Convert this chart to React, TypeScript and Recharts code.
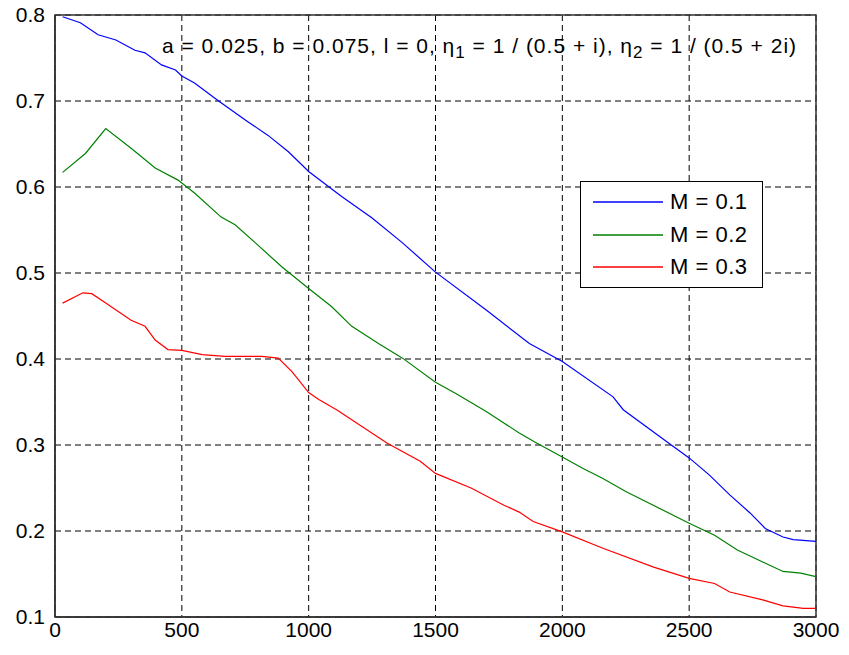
import { LineChart, Line, XAxis, YAxis, CartesianGrid, Legend, ReferenceArea } from 'recharts';

// values
const blueX = [30, 100, 170, 240, 315, 355, 420, 475, 500, 550, 645, 760, 840, 920, 1000, 1130, 1250, 1370, 1500, 1700, 1870, 2000, 2200, 2240, 2420, 2500, 2580, 2660, 2740, 2800, 2870, 2910, 3000];
const blueY = [0.798, 0.791, 0.777, 0.771, 0.759, 0.756, 0.742, 0.736, 0.729, 0.721, 0.700, 0.676, 0.660, 0.641, 0.618, 0.589, 0.564, 0.535, 0.501, 0.457, 0.418, 0.397, 0.356, 0.341, 0.302, 0.285, 0.265, 0.242, 0.221, 0.203, 0.193, 0.190, 0.188];

const greenX = [30, 120, 200, 300, 395, 485, 550, 655, 710, 790, 895, 1000, 1090, 1170, 1275, 1370, 1500, 1580, 1700, 1830, 1900, 2000, 2080, 2160, 2250, 2500, 2600, 2690, 2790, 2870, 2940, 3000];
const greenY = [0.617, 0.639, 0.668, 0.645, 0.622, 0.608, 0.593, 0.565, 0.556, 0.535, 0.507, 0.482, 0.461, 0.438, 0.418, 0.401, 0.373, 0.360, 0.339, 0.314, 0.302, 0.286, 0.273, 0.261, 0.246, 0.209, 0.195, 0.178, 0.164, 0.153, 0.151, 0.147];

const redX = [30, 110, 145, 200, 300, 355, 395, 445, 500, 580, 670, 815, 880, 935, 1000, 1040, 1110, 1310, 1440, 1500, 1640, 1770, 1830, 1885, 2000, 2160, 2360, 2500, 2600, 2660, 2790, 2870, 2950, 3000];
const redY = [0.465, 0.477, 0.476, 0.465, 0.445, 0.438, 0.422, 0.411, 0.410, 0.405, 0.403, 0.403, 0.401, 0.385, 0.361, 0.353, 0.341, 0.302, 0.281, 0.267, 0.250, 0.230, 0.222, 0.211, 0.199, 0.180, 0.158, 0.145, 0.139, 0.129, 0.120, 0.113, 0.110, 0.110];

const xTicks = [0, 500, 1000, 1500, 2000, 2500, 3000];
const yTicks = [0.1, 0.2, 0.3, 0.4, 0.5, 0.6, 0.7, 0.8];

const seriesNames = ['M = 0.1', 'M = 0.2', 'M = 0.3'];
const seriesColors = ['#0000ff', '#008000', '#ff0000'];

const toPoints = (xs: number[], ys: number[]) => xs.map((x, i) => ({ x, y: ys[i] }));

const series = [
  toPoints(blueX, blueY),
  toPoints(greenX, greenY),
  toPoints(redX, redY),
];

const FONT = '"Liberation Sans", Arial, sans-serif';

const LegendBox = () => (
  <div
    style={{
      border: '1.5px solid #000',
      background: '#fff',
      width: 183,
      height: 107,
      boxSizing: 'border-box',
      padding: '4px 0 0 12px',
      fontFamily: FONT,
      fontSize: 22,
      letterSpacing: 0.5,
      color: '#000',
    }}
  >
    {seriesNames.map((name, i) => (
      <div key={name} style={{ display: 'flex', alignItems: 'center', height: 32.5 }}>
        <svg width={72} height={4} style={{ marginRight: 5 }}>
          <line x1={0} y1={2} x2={70} y2={2} stroke={seriesColors[i]} strokeWidth={1.5} />
        </svg>
        <span>{name}</span>
      </div>
    ))}
  </div>
);

export default function App() {
  const tickStyle = { fill: '#000', fontSize: 21, fontFamily: FONT };
  return (
    <div style={{ position: 'absolute', left: 0, top: 0, width: 849, height: 655, background: '#fff' }}>
      <LineChart width={849} height={655} margin={{ top: 15, right: 33, left: 5, bottom: 8 }}>
        <CartesianGrid stroke="#000" strokeDasharray="6 4" />
        <XAxis
          type="number"
          dataKey="x"
          domain={[0, 3000]}
          ticks={xTicks}
          allowDataOverflow
          height={30}
          tick={tickStyle}
          tickLine={false}
          tickSize={3}
          tickMargin={2}
          axisLine={{ stroke: '#333', strokeWidth: 1.5 }}
        />
        <YAxis
          type="number"
          domain={[0.1, 0.8]}
          ticks={yTicks}
          allowDataOverflow
          width={50}
          tick={tickStyle}
          tickLine={false}
          tickSize={8}
          tickMargin={2}
          axisLine={{ stroke: '#333', strokeWidth: 1.5 }}
        />
        <ReferenceArea x1={0} x2={3000} y1={0.1} y2={0.8} fill="none" stroke="#333" strokeWidth={1.5} ifOverflow="visible" />
        {series.map((pts, i) => (
          <Line
            key={seriesNames[i]}
            data={pts}
            dataKey="y"
            name={seriesNames[i]}
            stroke={seriesColors[i]}
            strokeWidth={1.2}
            dot={false}
            type="linear"
            isAnimationActive={false}
          />
        ))}
        <Legend
          layout="horizontal"
          verticalAlign="middle"
          align="center"
          content={() => <LegendBox />}
          wrapperStyle={{ position: 'absolute', left: 580, top: 181, width: 183, height: 107 }}
        />
      </LineChart>
      <div
        style={{
          position: 'absolute',
          left: 162,
          top: 35,
          fontFamily: FONT,
          fontSize: 21,
          letterSpacing: 1,
          whiteSpace: 'nowrap',
          color: '#000',
          lineHeight: '22px',
        }}
      >
        a = 0.025, b = 0.075, l = 0, η<sub style={{ fontSize: 17, lineHeight: 0 }}>1</sub> = 1 / (0.5 + i), η<sub style={{ fontSize: 17, lineHeight: 0 }}>2</sub> = 1 / (0.5 + 2i)
      </div>
    </div>
  );
}
